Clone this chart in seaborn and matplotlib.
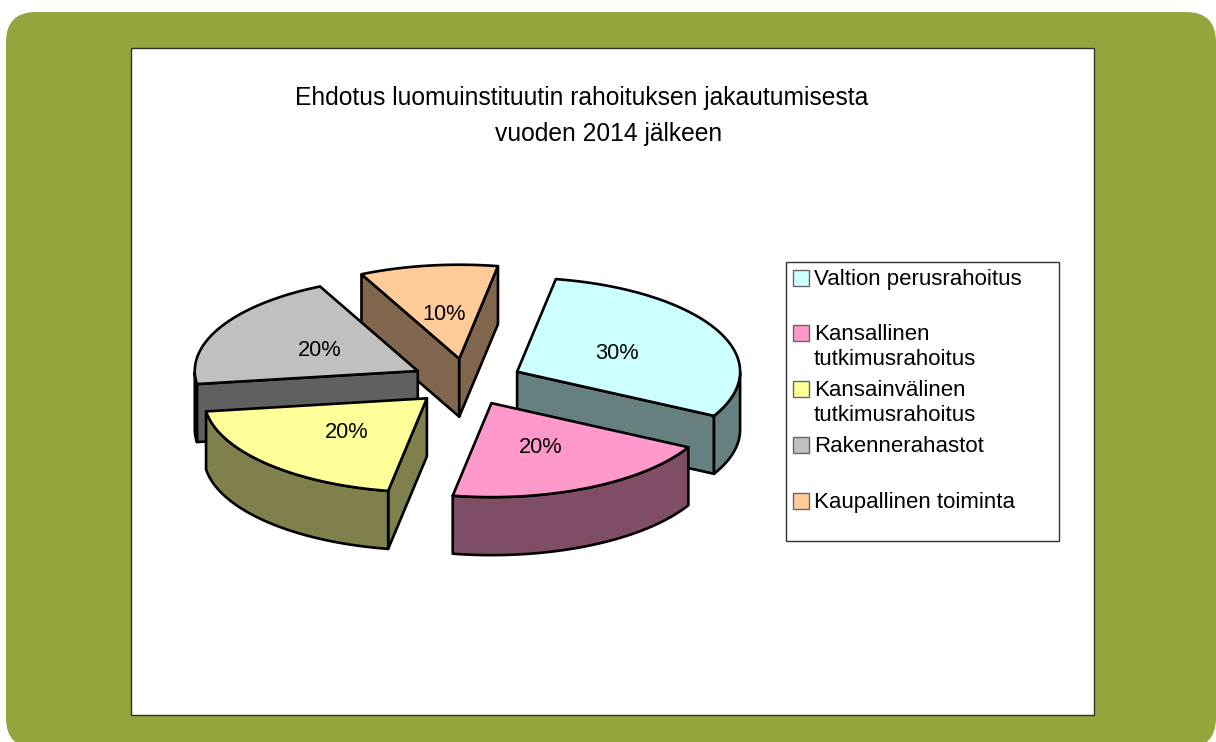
import numpy as np
import seaborn as sns
from matplotlib import pyplot as plt
from matplotlib.patches import FancyBboxPatch, Polygon, Rectangle

labels = ['Valtion perusrahoitus', 'Kansallinen\ntutkimusrahoitus', 'Kansainvälinen\ntutkimusrahoitus',
          'Rakennerahastot', 'Kaupallinen toiminta']
values = [30, 20, 20, 20, 10]
title_lines = ['Ehdotus luomuinstituutin rahoituksen jakautumisesta', 'vuoden 2014 jälkeen']
top_colors = ['#CCFFFF', '#FF99CC', '#FFFF99', '#C0C0C0', '#FFCC99']
side_colors = ['#668080', '#804D66', '#80804D', '#606060', '#80664D']

# pie geometry in pixels
cx, cy = 467, 382
rx, ry = 223, 94
depth = 58
explode = 0.25
start = 10
legend_y = [278, 333, 389, 445, 501]
# drawing order, back slices first
order = [4, 3, 0, 2, 1]

sns.set_theme(style='white')
plt.rcParams['font.family'] = ['Liberation Sans', 'DejaVu Sans']
palette = sns.color_palette(top_colors)
sides = sns.color_palette(side_colors)

fig = plt.figure(figsize=(12.16, 7.42), dpi=100)
ax = fig.add_axes([0, 0, 1, 1])
ax.set_xlim(0, 1216)
ax.set_ylim(742, 0)
ax.axis('off')

ax.add_patch(FancyBboxPatch((6, 12), 1210, 736, boxstyle='round,pad=0,rounding_size=30', lw=0, fc='#93A63E'))
ax.add_patch(Rectangle((131, 48), 963, 667, fc='white', ec='#333322', lw=1))


def xy(t, ox, oy):
    t = np.radians(t)
    return np.column_stack([ox + rx * np.sin(t), oy - ry * np.cos(t)])


def wall(points, color):
    # extrude a top edge downward
    poly = np.vstack([points, points[::-1] + [0, depth]])
    ax.add_patch(Polygon(poly, closed=True, fc=color, ec='black', lw=1.9, joinstyle='round'))


edges = start + np.cumsum([0] + values) * 3.6
for i in order:
    t0, t1 = edges[i], edges[i + 1]
    mid = (t0 + t1) / 2
    ox, oy = xy(mid, cx, cy)[0] * explode + np.array([cx, cy]) * (1 - explode)
    apex = np.array([[ox, oy]])
    arc = np.linspace(t0, t1, 80)
    rim = xy(arc, ox, oy)

    # cut faces that look toward the viewer
    # outward normal of the start cut is at t0-90, of the end cut at t1+90
    if -np.cos(np.radians(t0 - 90)) > 0:
        wall(np.vstack([apex, xy(np.array([t0]), ox, oy)]), sides[i])
    if -np.cos(np.radians(t1 + 90)) > 0:
        wall(np.vstack([apex, xy(np.array([t1]), ox, oy)]), sides[i])

    # outer wall, only the part on the near side of the ellipse
    front = arc[(arc % 360 > 90) & (arc % 360 < 270)]
    if len(front):
        wall(xy(front, ox, oy), sides[i])

    ax.add_patch(Polygon(np.vstack([apex, rim]), closed=True, fc=palette[i], ec='black', lw=1.9, joinstyle='round'))
    lx, ly = xy(mid, ox, oy)[0] * 0.5 + apex[0] * 0.5
    ax.text(lx, ly + 2, f'{values[i]}%', fontsize=15.7, color='black', ha='center', va='center')

ax.text(295, 105, title_lines[0], fontsize=17.7, color='black', ha='left', va='baseline')
ax.text(495, 141, title_lines[1], fontsize=17.7, color='black', ha='left', va='baseline')

ax.add_patch(Rectangle((786, 262), 273, 279, fc='white', ec='#333333', lw=1))
for i, lab in enumerate(labels):
    ax.add_patch(Rectangle((793, legend_y[i] - 8), 16, 16, fc=palette[i], ec='#666666', lw=1))
    for j, line in enumerate(lab.split('\n')):
        ax.text(814, legend_y[i] + 7 + 25 * j, line, fontsize=16, color='black', ha='left', va='baseline')

fig.savefig('out.png', dpi=100)
